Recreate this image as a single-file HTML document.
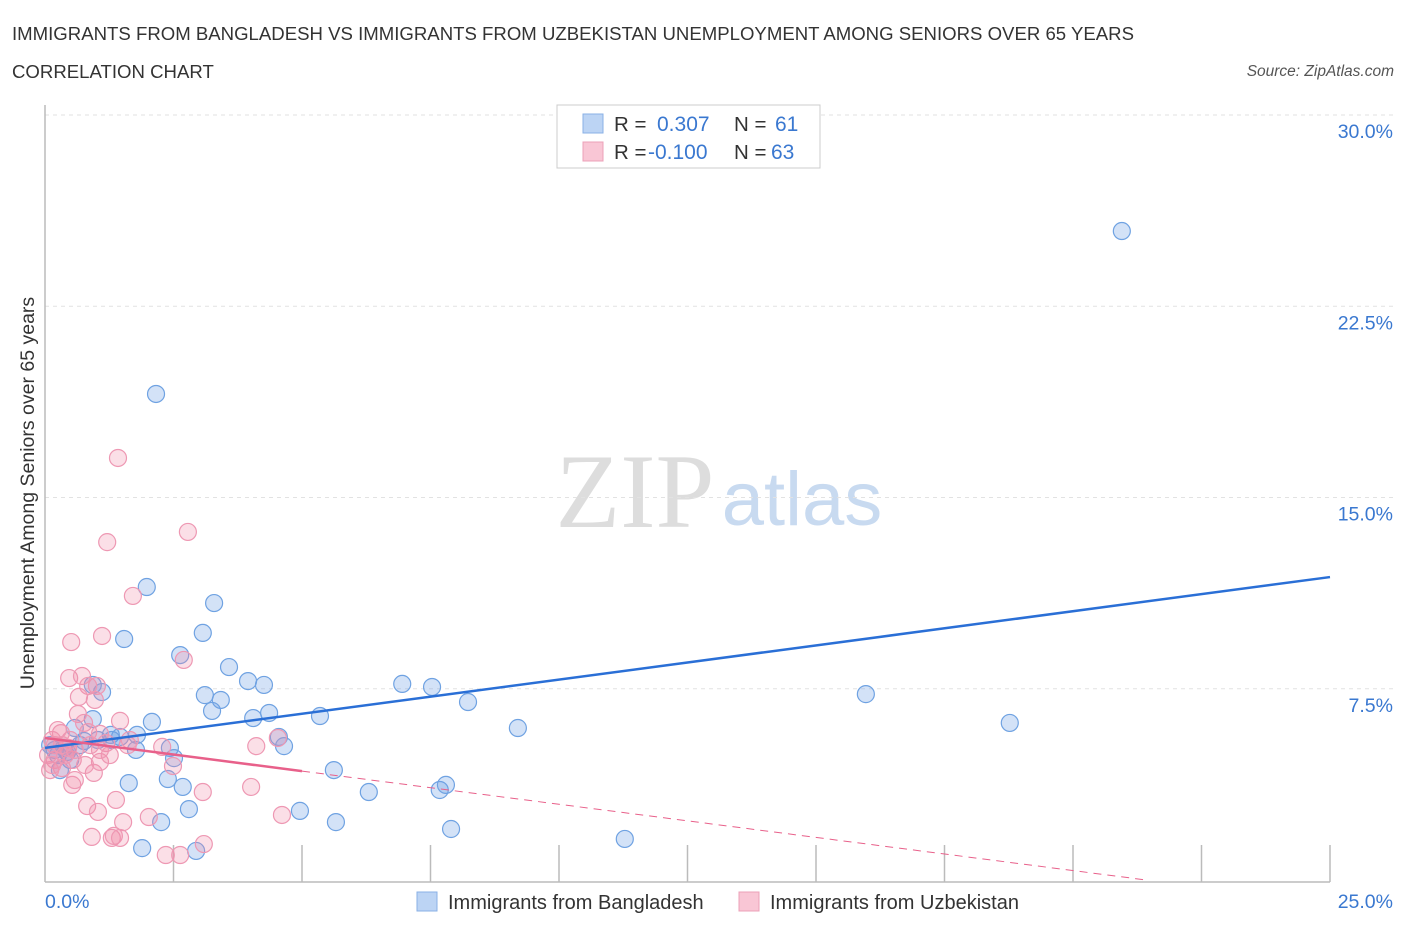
<!DOCTYPE html>
<html><head><meta charset="utf-8"><style>
body{margin:0;background:#fff;font-family:"Liberation Sans",sans-serif;}
svg{display:block}
</style></head><body>
<svg width="1406" height="930" viewBox="0 0 1406 930">
<text x="12" y="40" font-size="18.6" fill="#333">IMMIGRANTS FROM BANGLADESH VS IMMIGRANTS FROM UZBEKISTAN UNEMPLOYMENT AMONG SENIORS OVER 65 YEARS</text>
<text x="12" y="78" font-size="18.6" fill="#333">CORRELATION CHART</text>
<text x="1394" y="76" font-size="15.5" fill="#555" font-style="italic" text-anchor="end">Source: ZipAtlas.com</text>
<g>
<text x="635" y="527" font-size="106" fill="#ddd" font-family="Liberation Serif,serif" text-anchor="middle">ZIP</text>
<text x="802" y="525" font-size="76" fill="#c8daf0" text-anchor="middle">atlas</text>
</g>
<g id="grid"></g>
<g id="xticks"></g>
<line x1="45" y1="105" x2="45" y2="882" stroke="#bbb" stroke-width="1.5"/>
<line x1="45" y1="882" x2="1330" y2="882" stroke="#bbb" stroke-width="1.5"/>
<g id="ylabels"></g>
<text x="45" y="908" font-size="19.5" fill="#3a78d0">0.0%</text>
<text x="1393" y="908" font-size="19.5" fill="#3a78d0" text-anchor="end">25.0%</text>
<text transform="translate(34,493) rotate(-90)" font-size="19.5" fill="#333" text-anchor="middle">Unemployment Among Seniors over 65 years</text>
<g id="pts"></g>
<g id="trends"></g>
<g>
<rect x="557" y="105" width="263" height="63" fill="#fff" stroke="#ccc"/>
<rect x="583" y="114" width="20" height="19" fill="#bcd4f4" stroke="#8ab0e6"/>
<rect x="583" y="142" width="20" height="19" fill="#f9c6d5" stroke="#eca0b8"/>
<text x="614" y="131" font-size="20.5" fill="#333">R = </text><text x="657" y="131" font-size="21" fill="#3a78d0">0.307</text>
<text x="734" y="131" font-size="20.5" fill="#333">N = </text><text x="775" y="131" font-size="21" fill="#3a78d0">61</text>
<text x="614" y="159" font-size="20.5" fill="#333">R = </text><text x="648" y="159" font-size="21" fill="#3a78d0">-0.100</text>
<text x="734" y="159" font-size="20.5" fill="#333">N = </text><text x="771" y="159" font-size="21" fill="#3a78d0">63</text>
</g>
<g>
<rect x="417" y="892" width="20" height="19" fill="#bcd4f4" stroke="#8ab0e6"/>
<text x="448" y="909" font-size="20" fill="#333">Immigrants from Bangladesh</text>
<rect x="739" y="892" width="20" height="19" fill="#f9c6d5" stroke="#eca0b8"/>
<text x="770" y="909" font-size="20" fill="#333">Immigrants from Uzbekistan</text>
</g>
</svg>
<script>
const yTicks=[7.5,15,22.5,30];
const yTickLabels=["7.5%","15.0%","22.5%","30.0%"];
const xTickVals=[2.5,5,7.5,10,12.5,15,17.5,20,22.5,25];
const blueX=[20.95,2.16,1.98,3.29,1.54,3.07,2.63,3.58,3.11,3.42,3.25,3.95,4.26,4.05,4.36,5.35,6.95,7.53,8.23,9.20,15.97,18.77,2.08,0.93,1.11,0.93,0.58,0.19,0.37,0.49,0.76,1.28,1.46,1.79,1.77,2.43,2.51,4.55,4.65,1.63,2.39,2.68,2.80,2.26,1.89,2.94,4.96,5.66,6.30,5.62,7.68,7.80,7.90,11.28,0.25,0.10,1.30,0.29,0.68,1.03,0.43];
const blueY=[25.45,19.06,11.49,10.86,9.45,9.69,8.82,8.35,7.25,7.06,6.63,7.80,7.65,6.35,6.55,6.43,7.69,7.57,6.98,5.96,7.29,6.16,6.20,7.65,7.37,6.31,5.96,5.10,5.18,4.71,5.45,5.69,5.61,5.69,5.10,5.18,4.78,5.61,5.25,3.80,3.96,3.65,2.78,2.27,1.25,1.14,2.71,2.27,3.45,4.31,3.53,3.73,2.00,1.61,4.90,5.29,5.49,4.31,5.29,5.49,5.02];
const pinkX=[1.42,2.78,1.21,1.71,0.51,1.11,2.70,0.47,0.72,1.01,0.84,0.66,1.46,0.64,0.76,0.84,0.31,0.14,0.49,1.07,1.19,1.61,2.28,4.11,4.53,0.19,0.33,0.54,0.95,1.07,2.49,0.53,0.58,0.82,1.03,1.38,2.02,3.07,4.01,4.61,0.91,1.30,1.34,1.52,1.46,2.35,2.63,3.09,0.10,0.19,0.39,0.06,0.25,0.88,0.45,1.26,1.65,0.78,0.58,0.33,1.07,0.14,0.97];
const pinkY=[16.55,13.65,13.25,11.14,9.33,9.57,8.63,7.92,8.00,7.61,7.61,7.18,6.24,6.51,6.16,5.80,5.76,5.49,5.49,5.73,5.37,5.29,5.22,5.25,5.57,4.71,4.39,4.71,4.20,4.63,4.47,3.73,3.92,2.90,2.67,3.14,2.47,3.45,3.65,2.55,1.69,1.65,1.73,2.27,1.65,0.98,0.98,1.41,4.31,5.29,4.90,4.90,5.88,5.29,5.18,4.90,5.49,4.51,5.10,5.29,5.10,4.51,7.06];
const blueTrend=[5.18,11.88];
const pinkTrend=[5.57,-0.26];
const NS="http://www.w3.org/2000/svg";
const xs=v=>45+v*51.4, ys=v=>880-v*25.5;
function mk(t,a,p){const e=document.createElementNS(NS,t);for(const k in a)e.setAttribute(k,a[k]);p.appendChild(e);return e;}
const grid=document.getElementById('grid'),yl=document.getElementById('ylabels');
yTicks.forEach((v,i)=>{
 const l=mk('line',{x1:45,x2:1395,y1:ys(v),y2:ys(v),stroke:'#e2e2e2','stroke-dasharray':'4,4'},grid);
 
 
 const t=mk('text',{x:1393,y:ys(v)+23,'font-size':19.5,fill:'#3a78d0','text-anchor':'end'},yl);
 t.textContent=yTickLabels[i];
 
 
});
const xt=document.getElementById('xticks');
xTickVals.forEach(v=>{
 const l=mk('line',{x1:xs(v),x2:xs(v),y1:845,y2:882,stroke:'#bbb','stroke-width':1.5},xt);
 
 
});
const pts=document.getElementById('pts');
blueX.forEach((x,i)=>{
 const c=mk('circle',{cx:xs(x),cy:ys(blueY[i]),r:8.5,fill:'rgba(110,160,230,0.3)',stroke:'#6fa2e2','stroke-width':1.2},pts);
 
 
});
pinkX.forEach((x,i)=>{
 const c=mk('circle',{cx:xs(x),cy:ys(pinkY[i]),r:8.5,fill:'rgba(240,140,170,0.28)',stroke:'#ee98b3','stroke-width':1.2},pts);
 
 
});
const tr=document.getElementById('trends');
const bl=mk('line',{x1:xs(0),y1:ys(blueTrend[0]),x2:xs(25),y2:ys(blueTrend[1]),stroke:'#2a6fd6','stroke-width':2.5},tr);


const pf=v=>pinkTrend[0]+pinkTrend[1]*v;
const pl=mk('line',{x1:xs(0),y1:ys(pf(0)),x2:xs(5),y2:ys(pf(5)),stroke:'#e8608a','stroke-width':2.5},tr);


const xe=-pinkTrend[0]/pinkTrend[1];
const pd=mk('line',{x1:xs(5),y1:ys(pf(5)),x2:xs(Math.min(xe,25)),y2:ys(pf(Math.min(xe,25))),stroke:'#e8608a','stroke-width':1,'stroke-dasharray':'8,6'},tr);


</script>
</body></html>
